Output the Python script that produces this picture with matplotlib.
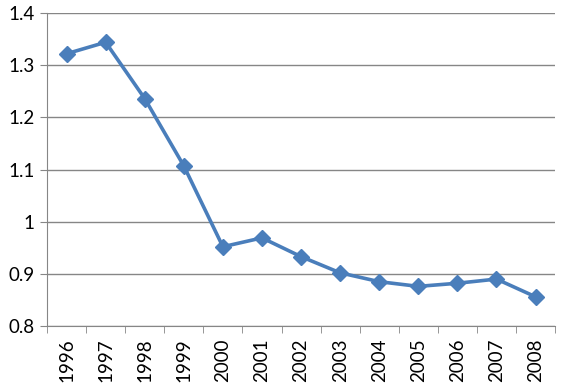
import matplotlib.pyplot as plt
import numpy as np

years = ['1996', '1997', '1998', '1999', '2000', '2001', '2002',
         '2003', '2004', '2005', '2006', '2007', '2008']
values = [1.322, 1.344, 1.236, 1.107, 0.952, 0.969, 0.933,
          0.902, 0.885, 0.876, 0.882, 0.890, 0.856]

plt.rcParams['font.family'] = ['Lato', 'DejaVu Sans']

fig = plt.figure(figsize=(5.63, 3.84), dpi=100)
ax = fig.add_axes([0.0835, 0.151, 0.9025, 0.815])

x = np.arange(len(years))
ax.plot(x, values, color='#4A7EBB', linewidth=2.6, marker='D',
        markersize=8.5, markeredgecolor='#4A7EBB', zorder=3)

ax.set_xlim(-0.5, len(years) - 0.5)
ax.set_ylim(0.8, 1.4)
ax.set_yticks(np.arange(0.8, 1.41, 0.1))
ax.set_yticklabels(['0.8', '0.9', '1', '1.1', '1.2', '1.3', '1.4'])
ax.yaxis.grid(True, color='#868686', linewidth=1)
ax.set_axisbelow(True)

ax.set_xticks(x)
ax.set_xticklabels(years, rotation=90)
ax.set_xticks(np.arange(-0.5, len(years)), minor=True)
ax.tick_params(axis='x', which='major', length=0, pad=9, labelsize=13.5)
ax.tick_params(axis='x', which='minor', length=5, color='#868686')
ax.tick_params(axis='y', length=5, color='#868686', labelsize=13.5, pad=4)

for s in ['top', 'right']:
    ax.spines[s].set_visible(False)
for s in ['left', 'bottom']:
    ax.spines[s].set_color('#868686')

fig.savefig('out.png', dpi=100)
